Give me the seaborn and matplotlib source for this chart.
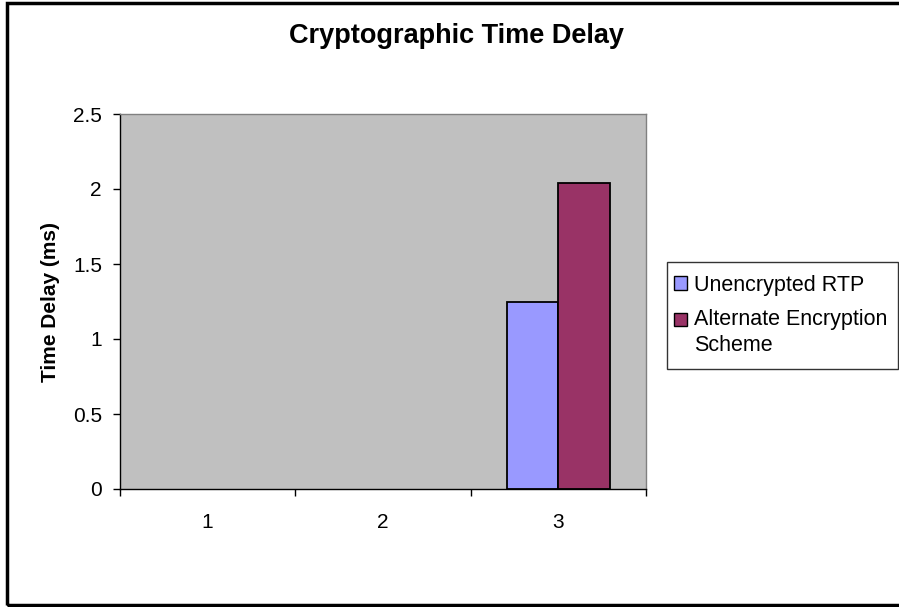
import numpy as np
import pandas as pd
import matplotlib
matplotlib.use("Agg")
import matplotlib.pyplot as plt
import seaborn as sns
from matplotlib.patches import Patch, Rectangle
from matplotlib.legend_handler import HandlerPatch

# -------- DATA --------
categories = ["1", "2", "3"]
unencrypted_rtp = [np.nan, np.nan, 1.25]
alternate_scheme = [np.nan, np.nan, 2.04]
series_names = ["Unencrypted RTP", "Alternate Encryption\nScheme"]
y_ticks = [0, 0.5, 1, 1.5, 2, 2.5]
y_tick_labels = ["0", "0.5", "1", "1.5", "2", "2.5"]

# Colours (Excel 2003 default palette)
series_colors = {series_names[0]: "#9999FF", series_names[1]: "#993366"}

df = pd.DataFrame({
    "Category": categories * 2,
    "Delay": unencrypted_rtp + alternate_scheme,
    "Series": [series_names[0]] * 3 + [series_names[1]] * 3,
})

# -------- PLOT --------
sns.set_style("white")
plt.rcParams["font.family"] = ["Liberation Sans", "DejaVu Sans"]
for key in ["text.color", "axes.labelcolor", "xtick.color", "ytick.color"]:
    plt.rcParams[key] = "black"

fig = plt.figure(figsize=(8.99, 6.07), dpi=100)
ax = fig.add_axes([120 / 899, 1 - 489 / 607, 526 / 899, 375 / 607])
ax.set_facecolor("#C0C0C0")

sns.barplot(
    data=df, x="Category", y="Delay", hue="Series", order=categories,
    hue_order=series_names, palette=series_colors, width=0.59,
    edgecolor="black", linewidth=1.3, saturation=1, ax=ax, legend=False,
)

ax.set_xlim(-0.5, 2.5)
ax.set_ylim(0, 2.5)
ax.set_yticks(y_ticks)
ax.set_yticklabels(y_tick_labels, fontsize=15)
ax.set_xticks(range(len(categories)))
ax.set_xticklabels(categories, fontsize=15)
ax.set_xticks(np.arange(-0.5, len(categories), 1.0), minor=True)
ax.tick_params(axis="x", which="major", length=0, pad=17)
ax.tick_params(axis="x", which="minor", length=5, width=1, color="black",
               direction="out", bottom=True)
ax.tick_params(axis="y", length=5, width=1, color="black", direction="out",
               left=True, pad=8)

for side in ["left", "bottom"]:
    ax.spines[side].set_color("black")
    ax.spines[side].set_linewidth(1)
for side in ["top", "right"]:
    ax.spines[side].set_color("#808080")
    ax.spines[side].set_linewidth(1)

ax.set_xlabel("")
ax.set_ylabel("Time Delay (ms)", fontsize=15, fontweight="bold", labelpad=9)

fig.text(456 / 899, 1 - 36 / 607, "Cryptographic Time Delay",
         ha="center", va="center", fontsize=19.5, fontweight="bold")


# legend square: nudged left, and on the first line of a two-line label (Excel style)
def square_handler(y_shift):
    def make(legend, orig_handle, xdescent, ydescent, width, height, fontsize):
        return Rectangle((-xdescent - 4.3, -ydescent + y_shift), width, height)
    return HandlerPatch(patch_func=make)


handles = [Patch(facecolor=series_colors[n], edgecolor="black", linewidth=1)
           for n in series_names]
leg = fig.legend(handles, series_names, loc="upper left", mode="expand",
                 bbox_to_anchor=(667 / 899, 1 - 262 / 607, 231 / 899, 0.0),
                 fontsize=15.5, frameon=True, fancybox=False,
                 edgecolor="black", handlelength=0.6, handleheight=0.6,
                 handletextpad=0.05, labelspacing=0.6, borderpad=0.6,
                 borderaxespad=0,
                 handler_map={handles[0]: square_handler(0.0),
                              handles[1]: square_handler(9.5)})
leg.get_frame().set_linewidth(1)
for t in leg.get_texts():
    t.set_linespacing(1.3)

# outer chart border
fig.patches.append(Rectangle((7 / 899, 2 / 607), 1.0, 1 - 5 / 607,
                             transform=fig.transFigure, fill=False,
                             edgecolor="black", linewidth=2.5))

plt.savefig("out.png", dpi=100)
